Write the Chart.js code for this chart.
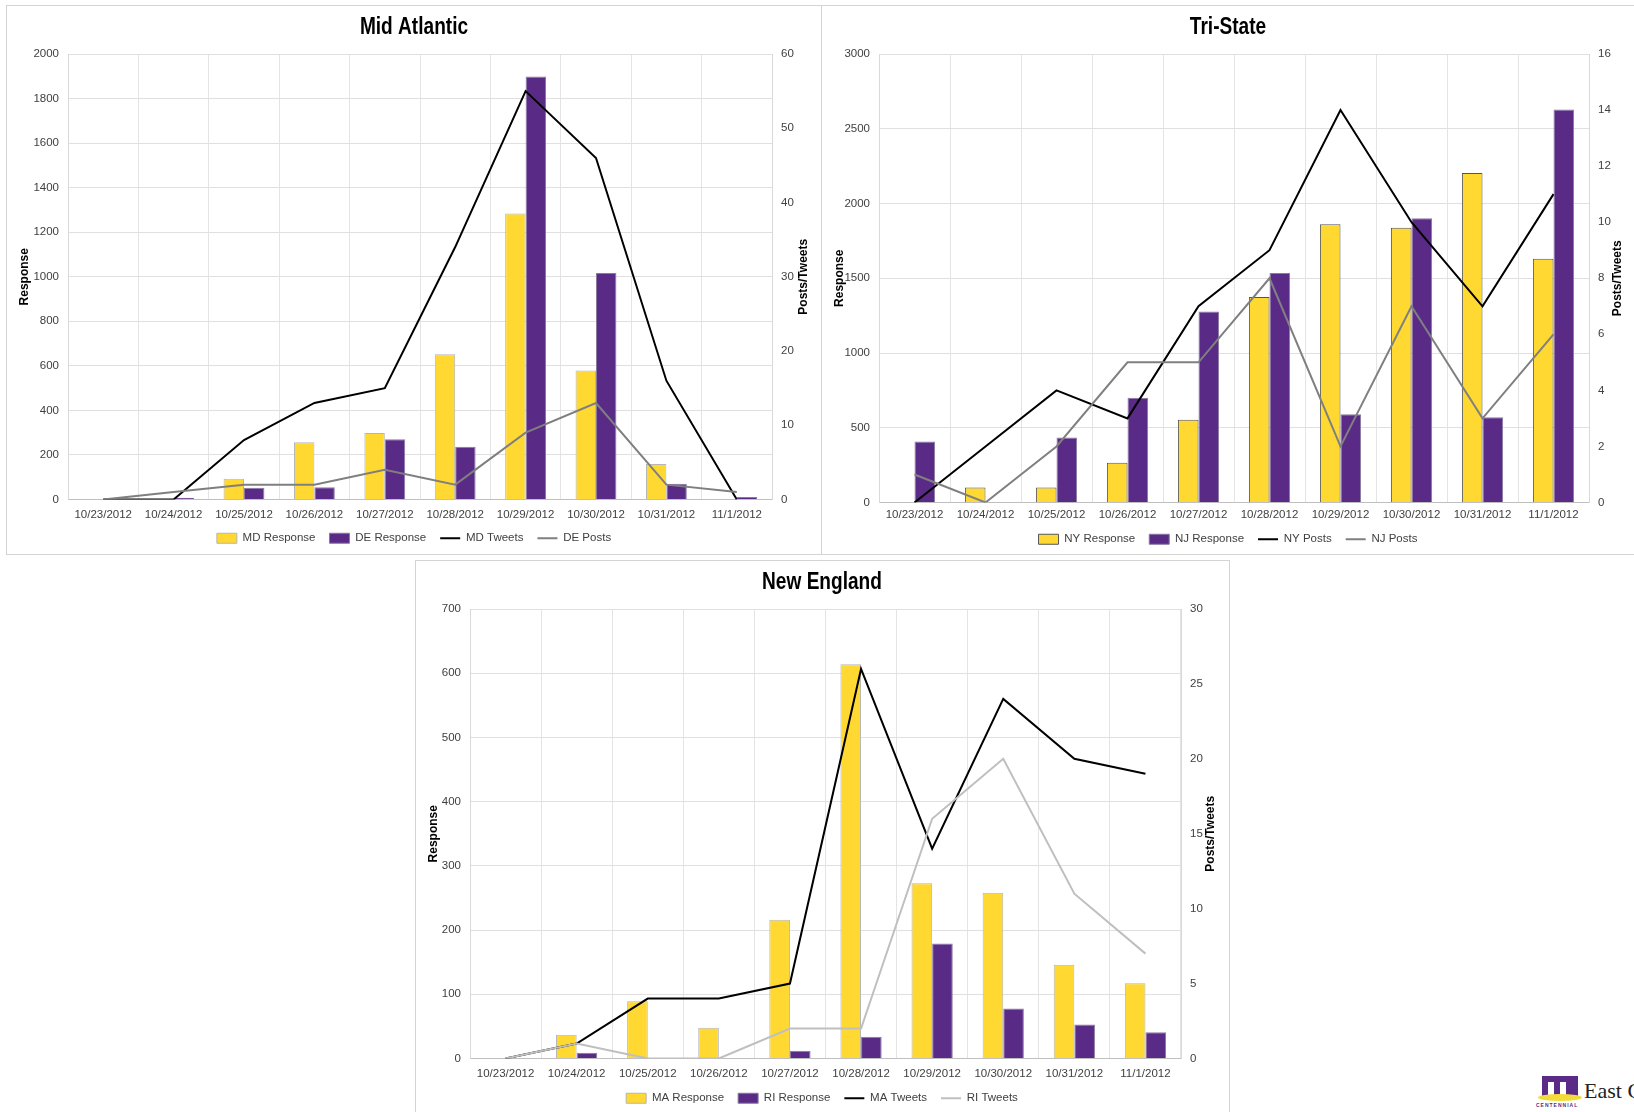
<!DOCTYPE html>
<html>
<head>
<meta charset="utf-8">
<script src="https://cdn.jsdelivr.net/npm/chart.js@4.4.1/dist/chart.umd.min.js"></script>
<style>
  html, body { margin: 0; padding: 0; background: #ffffff; width: 1634px; height: 1112px; overflow: hidden; position: relative; }
  .panel { position: absolute; border: 1px solid #d4d4d4; box-sizing: border-box; background: #fff; }
  canvas { position: absolute; }
  #logo { position: absolute; left: 1536px; top: 1068px; width: 98px; height: 44px; overflow: hidden; }
</style>
</head>
<body>
<div class="panel" style="left:6px;top:5px;width:816px;height:550px;"></div>
<div class="panel" style="left:821px;top:5px;width:830px;height:550px;"></div>
<div class="panel" style="left:415px;top:560px;width:815px;height:560px;"></div>
<canvas id="c1" style="left:6px;top:5px;" width="816" height="550"></canvas>
<canvas id="c2" style="left:822px;top:5px;" width="812" height="550"></canvas>
<canvas id="c3" style="left:415px;top:560px;" width="814" height="554"></canvas>
<div id="logo">
  <div style="position:absolute;left:6px;top:8px;width:36px;height:20px;background:#5b2a86;"></div>
  <div style="position:absolute;left:12px;top:14px;width:6px;height:14px;background:#fff;"></div>
  <div style="position:absolute;left:24px;top:14px;width:6px;height:14px;background:#fff;"></div>
  <div style="position:absolute;left:2px;top:26px;width:44px;height:7px;border-radius:50%;background:#f3dc3a;"></div>
  <div style="position:absolute;left:48px;top:10px;font:22px 'Liberation Serif',serif;color:#222;white-space:nowrap;">East C</div>
  <div style="position:absolute;left:0px;top:34px;font:bold 5px 'Liberation Sans',sans-serif;color:#5b2a86;letter-spacing:1px;white-space:nowrap;">CENTENNIAL</div>
</div>
<script>
// ---------- shared categories ----------
const dates = ['10/23/2012','10/24/2012','10/25/2012','10/26/2012','10/27/2012','10/28/2012','10/29/2012','10/30/2012','10/31/2012','11/1/2012'];

// ---------- Mid Atlantic ----------
const mdResponse = [0, 0, 93, 257, 298, 652, 1284, 579, 159, 0];
const deResponse = [0, 8, 53, 55, 270, 237, 1899, 1017, 71, 11];
const mdTweets   = [0, 0, 8, 13, 15, 34, 55, 46, 16, 0];
const dePosts    = [0, 1, 2, 2, 4, 2, 9, 13, 2, 1];

// ---------- Tri-State ----------
const nyResponse = [0, 100, 100, 266, 554, 1374, 1861, 1837, 2204, 1631];
const njResponse = [408, 0, 434, 700, 1278, 1535, 590, 1902, 571, 2628];
const nyPosts    = [0, 2, 4, 3, 7, 9, 14, 10, 7, 11];
const njPosts    = [1, 0, 2, 5, 5, 8, 2, 7, 3, 6];

// ---------- New England ----------
const maResponse = [0, 37, 89, 48, 216, 614, 273, 258, 146, 117];
const riResponse = [0, 9, 0, 0, 12, 34, 179, 78, 53, 41];
const maTweets   = [0, 1, 4, 4, 5, 26, 14, 24, 20, 19];
const riTweets   = [0, 1, 0, 0, 2, 2, 16, 20, 11, 7];

// ---------- axis ranges [min, max, step] ----------
const midAxes   = { left: [0, 2000, 200], right: [0, 60, 10] };
const triAxes   = { left: [0, 3000, 500], right: [0, 16, 2] };
const neAxes    = { left: [0, 700, 100],  right: [0, 30, 5] };

const YELLOW = '#FFD932';
const PURPLE = '#5A2A87';
const SANS = "'Liberation Sans', Arial, sans-serif";

// Axis titles (both read bottom-to-top, as in the original) and a condensed chart title
const textDecor = {
  id: 'textDecor',
  afterDraw(chart, args, opts) {
    const { ctx, chartArea } = chart;
    const cy = (chartArea.top + chartArea.bottom) / 2;
    ctx.save();
    ctx.font = "bold 12px " + SANS;
    ctx.fillStyle = '#000';
    ctx.textAlign = 'center';
    ctx.textBaseline = 'middle';
    [[opts.leftX, opts.left], [opts.rightX, opts.right]].forEach(([x, t]) => {
      ctx.save();
      ctx.translate(x, cy);
      ctx.rotate(-Math.PI / 2);
      ctx.fillText(t, 0, 0);
      ctx.restore();
    });
    // title
    ctx.save();
    ctx.font = "bold 23px " + SANS;
    ctx.translate(opts.titleX, opts.titleY);
    ctx.scale(0.83, 1);
    ctx.fillText(opts.title, 0, 0);
    ctx.restore();
    ctx.restore();
  }
};

function makeChart(id, p) {
  const barDs = (label, data, color, border, order) => ({
    type: 'bar', label, data, backgroundColor: color, borderColor: border, borderWidth: 1,
    yAxisID: 'y', order, pointStyle: 'rect', barPercentage: 1.0, categoryPercentage: 0.58,
    borderSkipped: 'bottom'
  });
  const lineDs = (label, data, color, order) => ({
    type: 'line', label, data, borderColor: color, backgroundColor: color, borderWidth: 2,
    pointRadius: 0, pointHoverRadius: 0, tension: 0, yAxisID: 'y1', order, pointStyle: 'line', fill: false
  });
  const canvas = document.getElementById(id);
  const tickFont = { family: SANS, size: 11.5 };
  new Chart(canvas, {
    data: {
      labels: dates,
      datasets: [
        barDs(p.names[0], p.series[0], YELLOW, p.yBorder, 2),
        barDs(p.names[1], p.series[1], PURPLE, '#8a7aa0', 3),
        lineDs(p.names[2], p.series[2], '#000000', 1),
        lineDs(p.names[3], p.series[3], p.greyLine, 0)
      ]
    },
    options: {
      responsive: false,
      animation: false,
      events: [],
      layout: { padding: { left: 0, right: 0, top: 49, bottom: p.padBottom } },
      plugins: {
        tooltip: { enabled: false },
        title: { display: false },
        legend: {
          position: 'bottom',
          labels: {
            usePointStyle: true, pointStyleWidth: 20, boxHeight: 10,
            padding: 14, color: '#404040',
            font: { family: SANS, size: 11.5 },
            sort: (a, b) => a.datasetIndex - b.datasetIndex
          }
        },
        textDecor: {
          left: 'Response', right: 'Posts/Tweets', leftX: p.leftTitleX, rightX: p.rightTitleX,
          title: p.title, titleX: canvas.width / 2, titleY: 23
        }
      },
      scales: {
        x: {
          offset: true,
          grid: { display: true, offset: true, color: '#e4e4e4', drawTicks: false },
          border: { display: true, color: '#bfbfbf' },
          ticks: { autoSkip: false, maxRotation: 0, minRotation: 0, padding: p.xPad, color: '#404040', font: tickFont },
          afterFit: s => { s.height = p.xHeight; }
        },
        y: {
          position: 'left',
          min: p.axes.left[0], max: p.axes.left[1],
          ticks: { stepSize: p.axes.left[2], padding: 9, color: '#404040', font: tickFont, callback: v => String(v) },
          grid: { color: '#e0e0e0', drawTicks: false },
          border: { display: true, color: '#d9d9d9' },
          afterFit: s => { s.width = p.leftW; }
        },
        y1: {
          position: 'right',
          min: p.axes.right[0], max: p.axes.right[1],
          ticks: { stepSize: p.axes.right[2], padding: 9, color: '#404040', font: tickFont, callback: v => String(v) },
          grid: { display: false, drawTicks: false },
          border: { display: true, color: '#d9d9d9' },
          afterFit: s => { s.width = p.rightW; }
        }
      }
    },
    plugins: [textDecor]
  });
}

makeChart('c1', {
  title: 'Mid Atlantic',
  names: ['MD Response', 'DE Response', 'MD Tweets', 'DE Posts'],
  series: [mdResponse, deResponse, mdTweets, dePosts],
  axes: midAxes, yBorder: '#b5b5b5', greyLine: '#7f7f7f',
  leftW: 62, rightW: 50, xHeight: 19, xPad: 8, padBottom: 1,
  leftTitleX: 19, rightTitleX: 798
});

makeChart('c2', {
  title: 'Tri-State',
  names: ['NY Response', 'NJ Response', 'NY Posts', 'NJ Posts'],
  series: [nyResponse, njResponse, nyPosts, njPosts],
  axes: triAxes, yBorder: '#555555', greyLine: '#808080',
  leftW: 57, rightW: 45, xHeight: 17, xPad: 5, padBottom: 0,
  leftTitleX: 18, rightTitleX: 796
});

makeChart('c3', {
  title: 'New England',
  names: ['MA Response', 'RI Response', 'MA Tweets', 'RI Tweets'],
  series: [maResponse, riResponse, maTweets, riTweets],
  axes: neAxes, yBorder: '#b5b5b5', greyLine: '#bfbfbf',
  leftW: 55, rightW: 48, xHeight: 20, xPad: 8, padBottom: 0,
  leftTitleX: 19, rightTitleX: 796
});
</script>
</body>
</html>
